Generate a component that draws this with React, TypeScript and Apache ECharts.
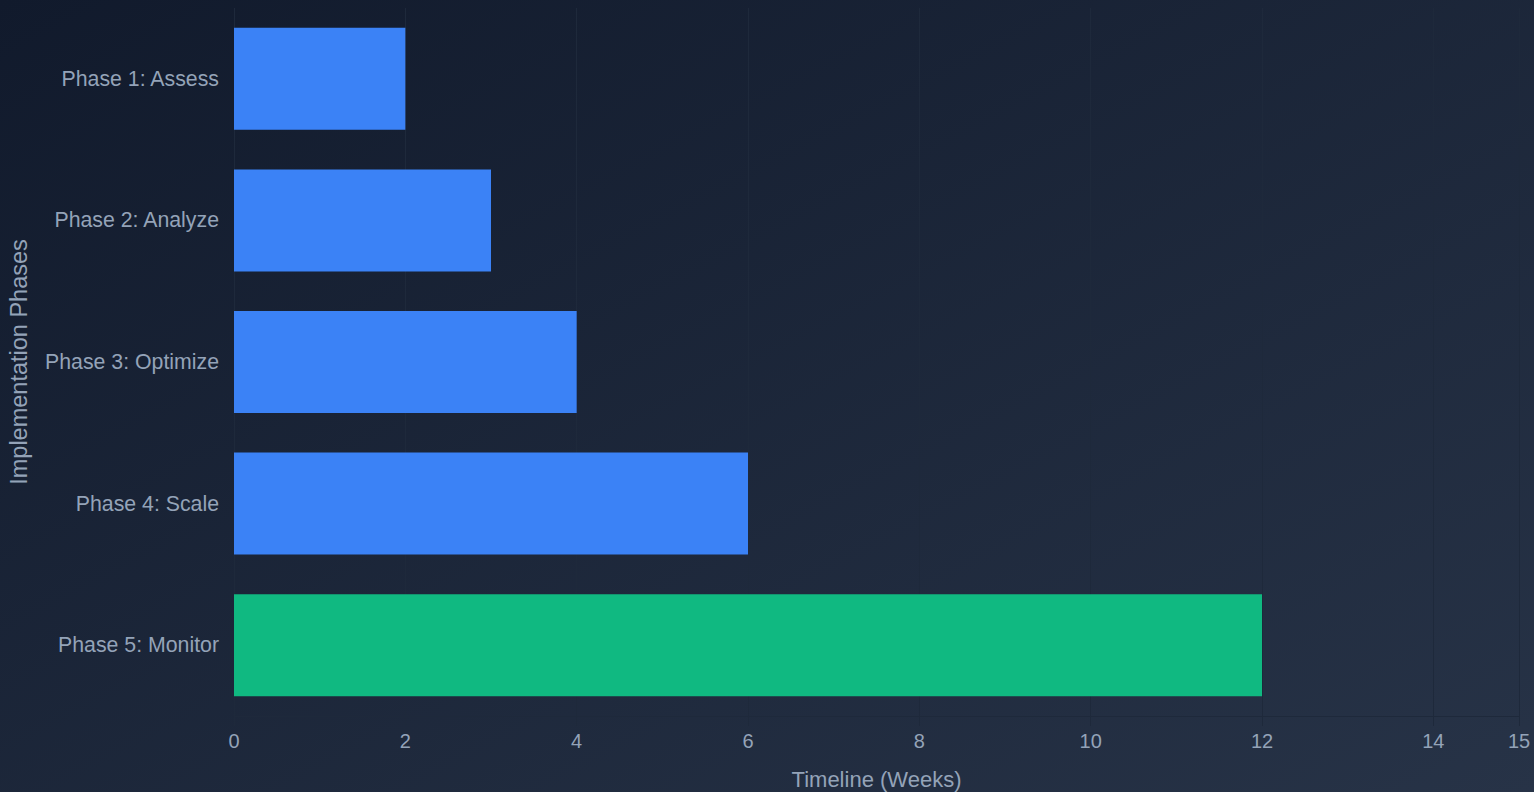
import React, { useEffect, useRef } from "react";
import * as echarts from "echarts";

const categories = [
  "Phase 1: Assess",
  "Phase 2: Analyze",
  "Phase 3: Optimize",
  "Phase 4: Scale",
  "Phase 5: Monitor",
];
const weeks = [2, 3, 4, 6, 12];
const barColors = ["#3b82f6", "#3b82f6", "#3b82f6", "#3b82f6", "#10b981"];

export default function App() {
  const ref = useRef<HTMLDivElement>(null);
  useEffect(() => {
    document.body.style.margin = "0";
    const chart = echarts.init(ref.current!, null, { renderer: "svg" });
    const lineColor = "#1e293b";
    const font = "Liberation Sans, Arial, sans-serif";
    chart.setOption({
      animation: false,
      backgroundColor: new echarts.graphic.LinearGradient(0, 0, 1, 1, [
        { offset: 0, color: "#111a2c" },
        { offset: 1, color: "#273347" },
      ]),
      grid: { left: 234, right: 15, top: 8, bottom: 76, containLabel: false, outerBoundsMode: "none" },
      xAxis: {
        type: "value",
        min: 0,
        max: 15,
        interval: 2,
        name: "Timeline (Weeks)",
        nameLocation: "middle",
        nameGap: 52,
        nameTextStyle: { color: "#94a3b8", fontSize: 22, fontFamily: font },
        axisLabel: { color: "#94a3b8", fontSize: 20, margin: 15, fontFamily: font, showMaxLabel: true },
        axisLine: { show: true, lineStyle: { color: lineColor } },
        axisTick: { show: true, length: 10, lineStyle: { color: lineColor } },
        splitLine: { show: true, lineStyle: { color: lineColor } },
      },
      yAxis: {
        type: "category",
        data: categories,
        inverse: true,
        name: "Implementation Phases",
        nameLocation: "middle",
        nameGap: 203,
        nameRotate: 90,
        nameTextStyle: { color: "#94a3b8", fontSize: 23.5, fontFamily: font },
        axisLabel: { color: "#94a3b8", fontSize: 21.3, margin: 15, fontFamily: font, padding: [0, 0, 3, 0] },
        axisLine: { show: false },
        axisTick: { show: false },
        splitLine: { show: false },
      },
      series: [
        {
          type: "bar",
          data: weeks.map((v, i) => ({ value: v, itemStyle: { color: barColors[i] } })),
          barWidth: "72%",
        },
      ],
    });
    return () => chart.dispose();
  }, []);
  return <div ref={ref} style={{ width: 1534, height: 792 }} />;
}
